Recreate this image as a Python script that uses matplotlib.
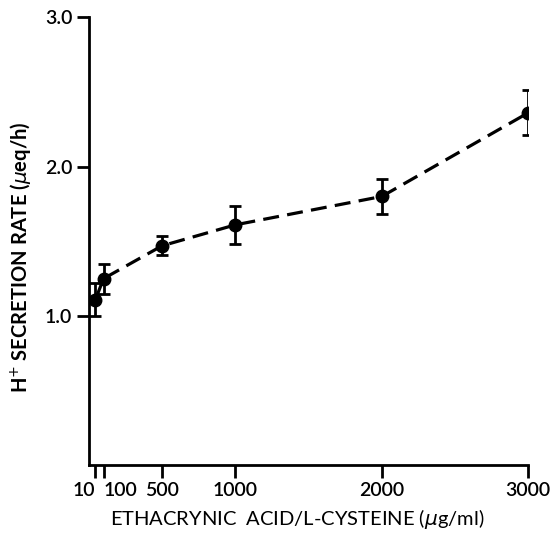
import matplotlib
matplotlib.use("Agg")
import matplotlib.pyplot as plt

plt.rcParams['font.family'] = ['Lato', 'DejaVu Sans']

# dose labels and where they sit on the (slightly non-linear) printed axis
dose_labels = ["10", "100", "500", "1000", "2000", "3000"]
dose_pos = [45, 100, 500, 1000, 2000, 3000]
rate = [1.11, 1.25, 1.47, 1.61, 1.80, 2.36]
rate_err = [0.11, 0.10, 0.065, 0.125, 0.12, 0.15]

fig = plt.figure(figsize=(5.52, 5.35), dpi=100)
ax = fig.add_axes([0.161, 0.130, 0.796, 0.838])

ax.errorbar(dose_pos, rate, yerr=rate_err, fmt="o", color="black", ms=9,
            elinewidth=2, capsize=4.5, capthick=2, zorder=3)
ax.plot(dose_pos, rate, color="black", lw=2.3, ls=(0, (5, 2.6)), zorder=2)

ax.set_xlim(0, 3000)
ax.set_ylim(0, 3.0)
ax.set_xticks(dose_pos)
ax.set_xticklabels(dose_labels)
ax.set_yticks([1.0, 2.0, 3.0])
ax.set_yticklabels(["1.0", "2.0", "3.0"])

for s in ("top", "right"):
    ax.spines[s].set_visible(False)
for s in ("left", "bottom"):
    ax.spines[s].set_linewidth(2)
ax.tick_params(axis="both", length=9, width=2, labelsize=14, pad=3)

# the first two labels crowd together, push them apart like the print
xt = ax.get_xticklabels()
xt[0].set_ha("right")
xt[1].set_ha("left")
for lab in xt + ax.get_yticklabels():
    lab.set_fontweight("semibold")

ax.set_xlabel(r"ETHACRYNIC  ACID/L-CYSTEINE ($\mu$g/ml)", fontsize=14.5)
ax.xaxis.set_label_coords(0.473, -0.092)
ax.set_ylabel(r"H$^{+}$ SECRETION RATE ($\mu$eq/h)", fontsize=14.5,
              fontweight="bold")
ax.yaxis.set_label_coords(-0.128, 0.465)

fig.savefig("out.png", dpi=100)
